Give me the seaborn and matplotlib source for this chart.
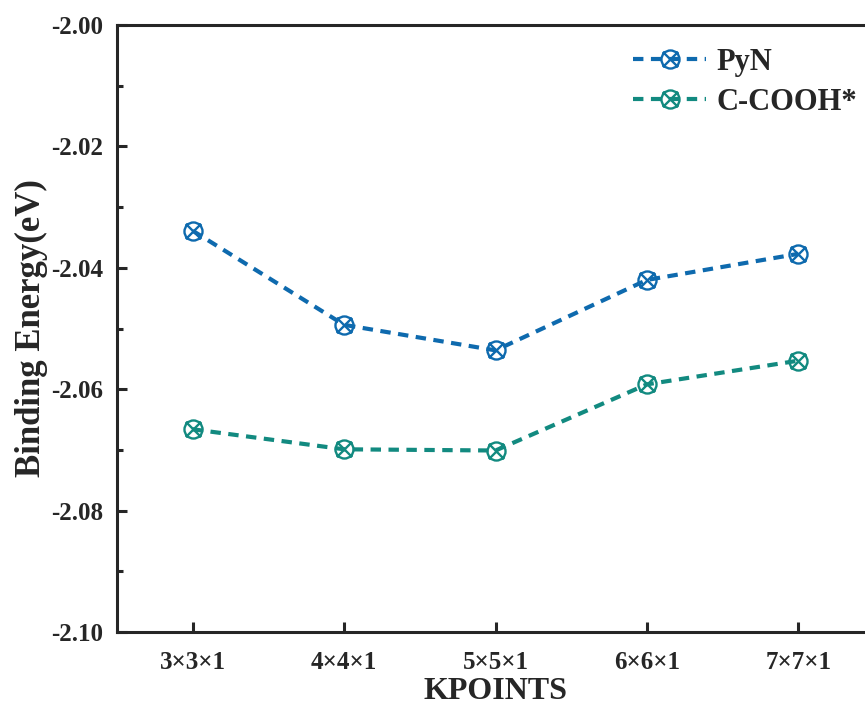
import numpy as np
import pandas as pd
import matplotlib
matplotlib.use("Agg")
import matplotlib.pyplot as plt
from matplotlib.path import Path
from matplotlib.ticker import MultipleLocator
import seaborn as sns

# dados
kpoints = ["3×3×1", "4×4×1", "5×5×1", "6×6×1", "7×7×1"]
pyn = [-2.0339, -2.0494, -2.0536, -2.0420, -2.0377]
cooh = [-2.0666, -2.0699, -2.0701, -2.0592, -2.0553]
series_names = ["PyN", "C-COOH*"]
cores = ["#0E6AAE", "#128A80"]

df = pd.DataFrame({
    "KPOINTS": kpoints * 2,
    "Energia": pyn + cooh,
    "Serie": [series_names[0]] * 5 + [series_names[1]] * 5,
})

sns.set_style("ticks")
plt.rcParams["font.family"] = ["Liberation Serif", "DejaVu Serif"]
plt.rcParams["font.weight"] = "bold"

# marcador: circulo com um X por dentro
d = 0.85
circ = Path.unit_circle()
x1 = Path([(-d, -d), (d, d)], [Path.MOVETO, Path.LINETO])
x2 = Path([(-d, d), (d, -d)], [Path.MOVETO, Path.LINETO])
marcador = Path.make_compound_path(circ, x1, x2)

fig = plt.figure(figsize=(8.65, 7.06), dpi=100)
ax = fig.add_axes([0.1353, 0.1048, 0.8751, 0.8598])

for nome, cor in zip(series_names, cores):
    sub = df[df["Serie"] == nome]
    sns.lineplot(data=sub, x="KPOINTS", y="Energia", ax=ax, color=cor,
                 label=nome, linewidth=3.0, dashes=False, linestyle=(0, (2.5, 1.8)),
                 marker=marcador, markersize=13, markerfacecolor="none",
                 markeredgecolor=cor, markeredgewidth=1.7)

ax.set_xlim(-0.5, 4.5)
ax.set_ylim(-2.10, -2.00)
ax.yaxis.set_major_locator(MultipleLocator(0.02))
ax.yaxis.set_minor_locator(MultipleLocator(0.01))
ax.yaxis.set_major_formatter(matplotlib.ticker.FormatStrFormatter("%.2f"))

for s in ax.spines.values():
    s.set_linewidth(2.2)
ax.spines["right"].set_visible(False)

ax.tick_params(axis="both", which="major", direction="in", length=7, width=2.2,
               labelsize=18, top=False, right=False)
ax.tick_params(axis="y", which="minor", direction="in", length=4, width=2.2)
ax.tick_params(axis="y", pad=10)
ax.tick_params(axis="x", pad=14)
for lab in ax.get_xticklabels() + ax.get_yticklabels():
    lab.set_fontweight("bold")

ax.set_xlabel("KPOINTS", fontsize=23, fontweight="bold", labelpad=2)
ax.set_ylabel("Binding Energy(eV)", fontsize=25, fontweight="bold", labelpad=2)

leg = ax.legend(loc="upper right", bbox_to_anchor=(0.9775, 0.962), frameon=False,
                prop={"size": 22, "weight": "bold"}, handlelength=2.4,
                handletextpad=0.33, labelspacing=0.35, borderpad=0, borderaxespad=0)

fig.savefig("out.png", dpi=100)
